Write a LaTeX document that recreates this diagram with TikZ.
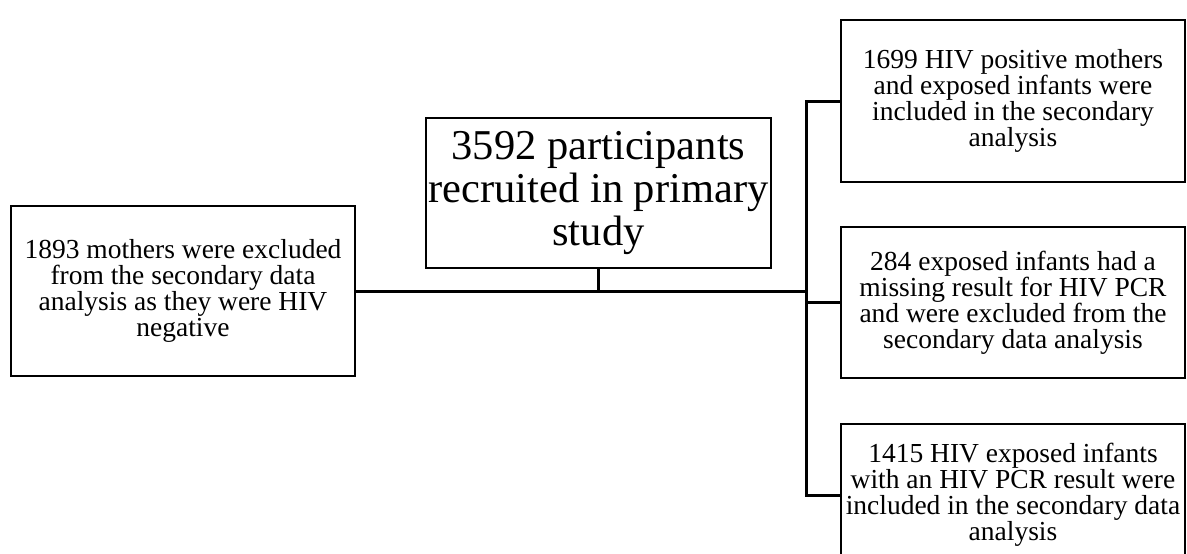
\documentclass[tikz,border=0pt]{standalone}
\usepackage{fontspec}
\setmainfont{Liberation Serif}
\usetikzlibrary{positioning}

\begin{document}
\begin{tikzpicture}[x=1pt,y=-1pt]

\tikzstyle{box}=[draw=black,line width=2.5pt,inner sep=0pt,align=center,
  minimum width=344pt,font=\fontsize{27.5pt}{26pt}\selectfont]
\tikzstyle{link}=[line width=3pt]

\useasboundingbox (0,0) rectangle (1187,554);

%primary study
\node [box,minimum width=345pt,minimum height=150pt,
  font=\fontsize{42.5pt}{43pt}\selectfont] (recruit) at (598.5,193)
  {3592 participants\\recruited in primary\\study};
\node [box,minimum height=170pt] (excluded) at (183,291)
  {1893 mothers were excluded\\from the secondary data\\analysis as they were HIV\\negative};

%secondary analysis
\node [box,minimum height=162pt] (positive) at (1013,101)
  {1699 HIV positive mothers\\and exposed infants were\\included in the secondary\\analysis};
\node [box,minimum height=151pt] (missing) at (1013,302.5)
  {284 exposed infants had a\\missing result for HIV PCR\\and were excluded from the\\secondary data analysis};
\node [box,minimum height=142pt] (pcr) at (1013,495)
  {1415 HIV exposed infants\\with an HIV PCR result were\\included in the secondary data\\analysis};

\coordinate (split) at (806,291);

\draw [link] (excluded.east) -- (split);
\draw [link,line width=2.5pt] (recruit.south) -- (recruit.south |- split);
\draw [link] (positive.west) -| (split) |- (pcr.west);
\draw [link] (missing.west) -- (missing.west -| split);

\end{tikzpicture}
\end{document}
